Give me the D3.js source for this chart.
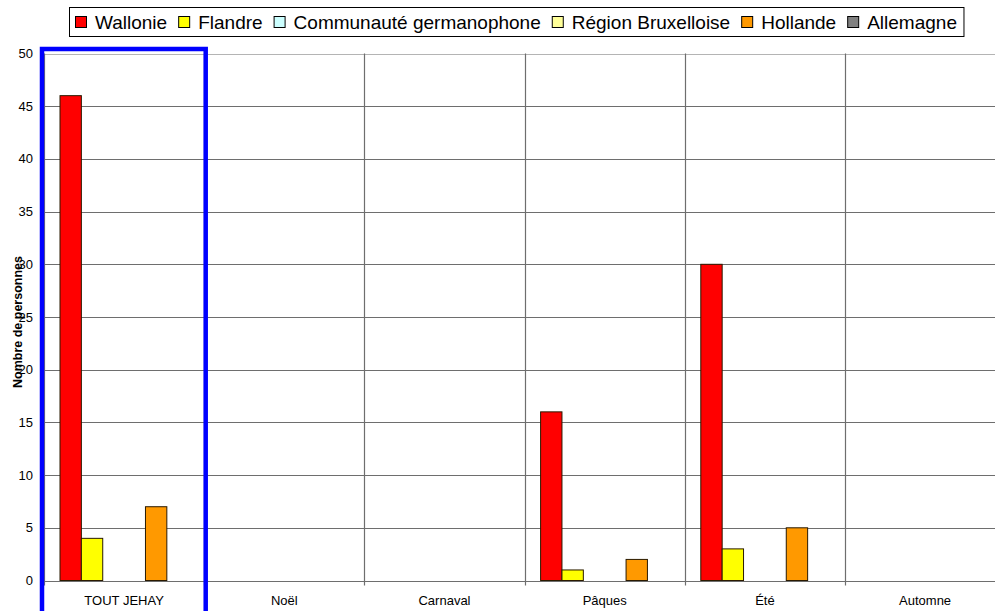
<!DOCTYPE html>
<html>
<head>
<meta charset="utf-8">
<script src="https://cdn.jsdelivr.net/npm/d3@7"></script>
<style>
  body { margin: 0; background: #fff; }
  text { font-family: "Liberation Sans", Arial, sans-serif; fill: #000; }
</style>
</head>
<body>
<script>
//data
var categories = ["TOUT JEHAY", "Noël", "Carnaval", "Pâques", "Été", "Automne"];
var seriesNames = ["Wallonie", "Flandre", "Communauté germanophone", "Région Bruxelloise", "Hollande", "Allemagne"];
var seriesColors = ["#ff0000", "#ffff00", "#ccffff", "#ffff99", "#ff9900", "#808080"];
var wallonie = [46, 0, 0, 16, 30, 0];
var flandre = [4, 0, 0, 1, 3, 0];
var germanophone = [0, 0, 0, 0, 0, 0];
var bruxelles = [0, 0, 0, 0, 0, 0];
var hollande = [7, 0, 0, 2, 5, 0];
var allemagne = [0, 0, 0, 0, 0, 0];
var yTicks = [0, 5, 10, 15, 20, 25, 30, 35, 40, 45, 50];

var seriesValues = [wallonie, flandre, germanophone, bruxelles, hollande, allemagne];

//layout
var width = 995, height = 611;
var plot = {left: 44, top: 53.5, bottom: 580.5, step: 160.2};

var svg = d3.select("body").append("svg")
    .attr("width", width)
    .attr("height", height);

//scales
var xScale = d3.scaleBand()
    .domain(categories)
    .range([plot.left, plot.left + plot.step * categories.length])
    .padding(0);

var xInner = d3.scaleBand()
    .domain(seriesNames)
    .range([16, xScale.bandwidth() - 16])
    .padding(0);

var yScale = d3.scaleLinear()
    .domain([0, 50])
    .range([plot.bottom, plot.top]);

//horizontal gridlines
svg.append("g")
    .selectAll("line")
    .data(yTicks)
    .enter()
    .append("line")
    .attr("x1", plot.left)
    .attr("x2", width)
    .attr("y1", function(d){ return Math.round(yScale(d)) + 0.5; })
    .attr("y2", function(d){ return Math.round(yScale(d)) + 0.5; })
    .attr("stroke", function(d){ return d == 50 ? "#b4b4b4" : "#6e6e6e"; })
    .attr("stroke-width", 1.2);

//vertical category separators (with ticks below the axis)
svg.append("g")
    .selectAll("line")
    .data(categories)
    .enter()
    .append("line")
    .attr("x1", function(d){ return Math.round(xScale(d)) + 0.5; })
    .attr("x2", function(d){ return Math.round(xScale(d)) + 0.5; })
    .attr("y1", plot.top)
    .attr("y2", plot.bottom + 5)
    .attr("stroke", "#6e6e6e")
    .attr("stroke-width", 1.2);

//y tick labels
svg.append("g")
    .selectAll("text")
    .data(yTicks)
    .enter()
    .append("text")
    .attr("x", 33)
    .attr("y", function(d){ return yScale(d) + 4.5; })
    .attr("text-anchor", "end")
    .style("font-size", "13px")
    .text(function(d){ return d; });

//x labels
svg.append("g")
    .selectAll("text")
    .data(categories)
    .enter()
    .append("text")
    .attr("x", function(d){ return xScale(d) + xScale.bandwidth() / 2; })
    .attr("y", 604.5)
    .attr("text-anchor", "middle")
    .style("font-size", "13px")
    .text(function(d){ return d; });

//bars
var groups = svg.append("g")
    .selectAll("g")
    .data(seriesNames)
    .enter()
    .append("g")
    .attr("fill", function(d, i){ return seriesColors[i]; });

groups.selectAll("rect")
    .data(function(s, i){ return seriesValues[i].map(function(v, j){ return {s: s, c: categories[j], v: v}; }); })
    .enter()
    .filter(function(d){ return d.v > 0; })
    .append("rect")
    .attr("x", function(d){ return xScale(d.c) + xInner(d.s); })
    .attr("y", function(d){ return yScale(d.v); })
    .attr("width", xInner.bandwidth())
    .attr("height", function(d){ return yScale(0) - yScale(d.v); })
    .attr("stroke", "#2a1a00")
    .attr("stroke-width", 1);

//y axis title
svg.append("text")
    .attr("transform", "translate(22,322) rotate(-90)")
    .attr("text-anchor", "middle")
    .style("font-size", "12.5px")
    .style("font-weight", "bold")
    .text("Nombre de personnes");

//blue highlight frame round the first category
svg.append("rect")
    .attr("x", xScale(categories[0]) - 2)
    .attr("y", 49)
    .attr("width", xScale.bandwidth() + 3.5)
    .attr("height", 620)
    .attr("fill", "none")
    .attr("stroke", "#0000ff")
    .attr("stroke-width", 4.5);

//legend
var legend = svg.append("g");
var legendBox = legend.append("rect")
    .attr("y", 7.5)
    .attr("height", 29)
    .attr("fill", "#fff")
    .attr("stroke", "#000")
    .attr("stroke-width", 1);

var lx = 75;
seriesNames.forEach(function(name, i){
    legend.append("rect")
        .attr("x", lx + 0.5)
        .attr("y", 16.5)
        .attr("width", 11)
        .attr("height", 11)
        .attr("fill", seriesColors[i])
        .attr("stroke", "#000")
        .attr("stroke-width", 1);
    var t = legend.append("text")
        .attr("x", lx + 20)
        .attr("y", 28.5)
        .style("font-size", "19px")
        .text(name);
    lx += 20 + t.node().getComputedTextLength() + 11;
});
legendBox.attr("x", 69.5).attr("width", lx - 11 + 7 - 69.5);
</script>
</body>
</html>
